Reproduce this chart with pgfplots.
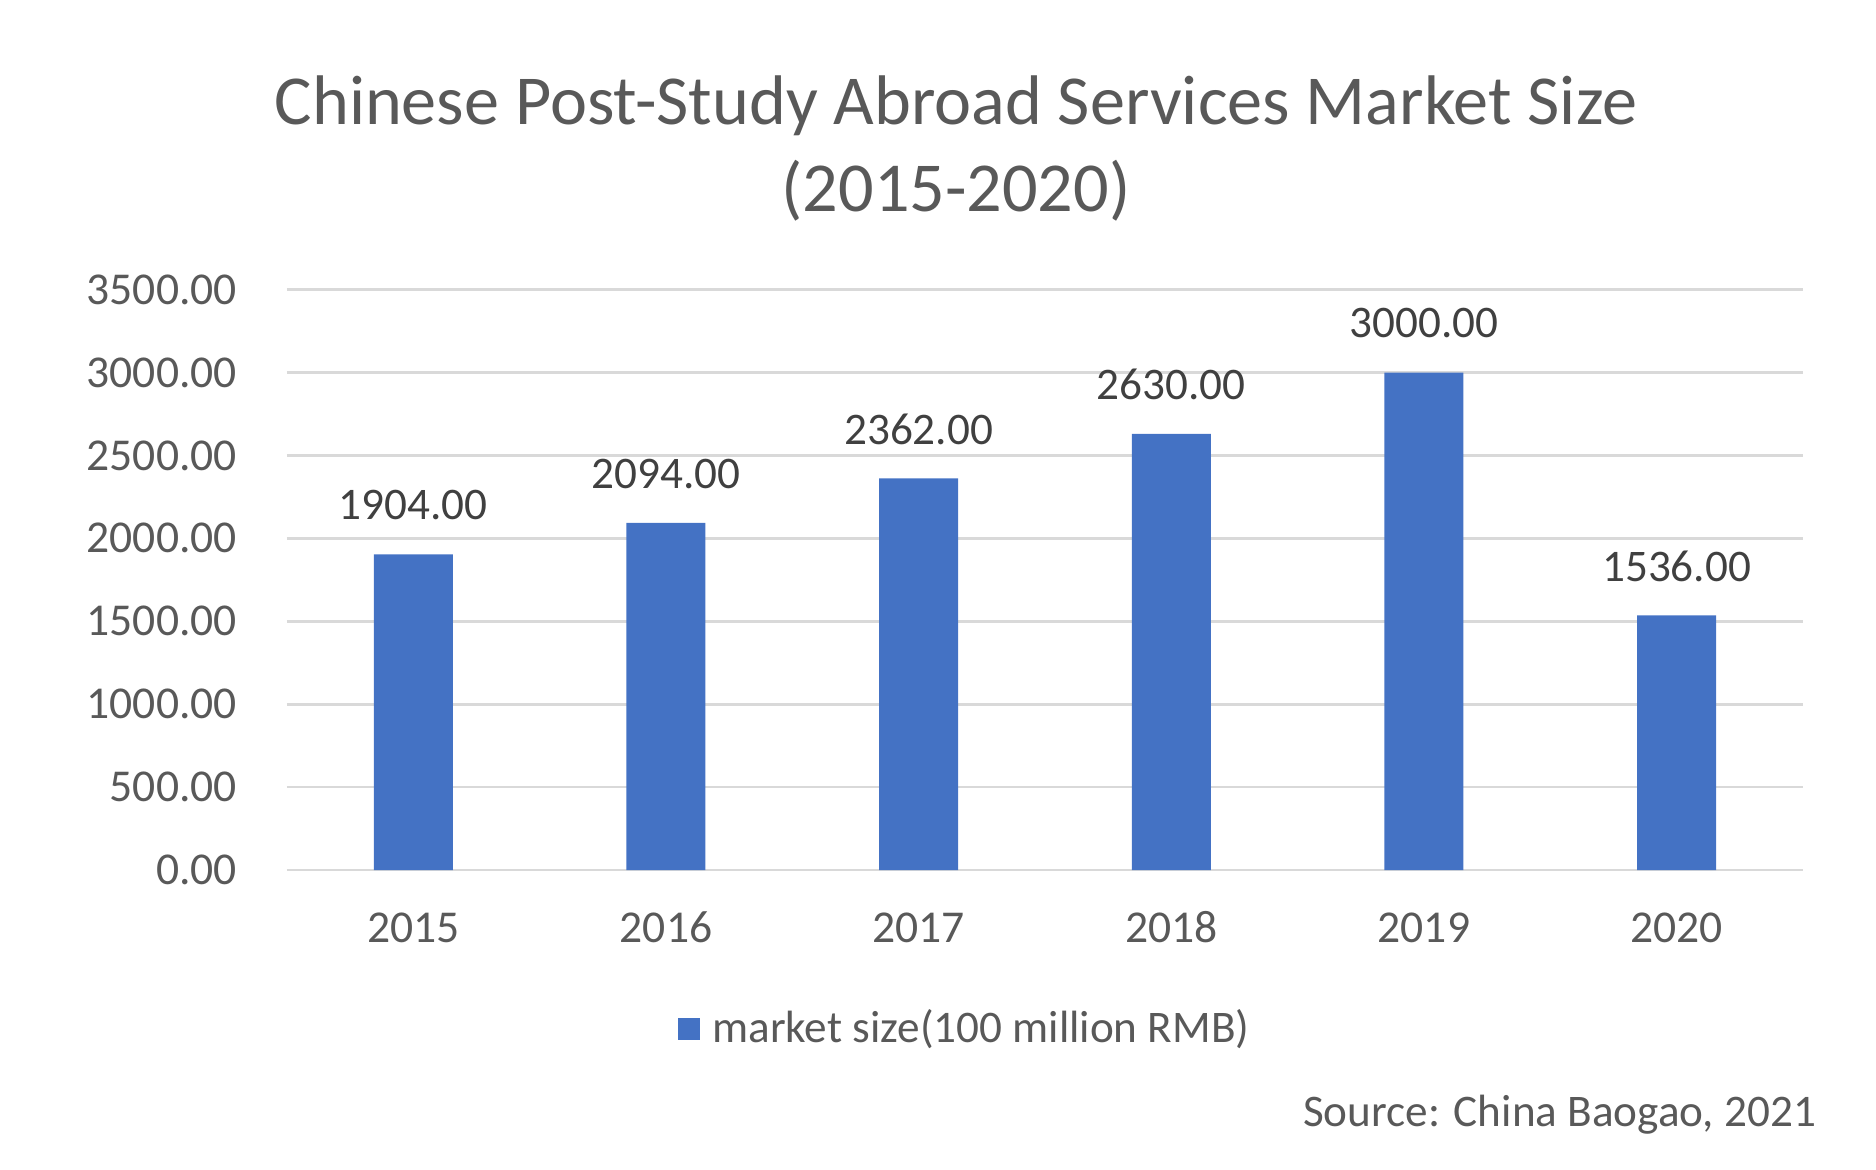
\documentclass[border=0pt]{standalone}
\usepackage{pgfplots}
\pgfplotsset{compat=1.18}
\usepackage{fontspec}
\setmainfont{Carlito}
\definecolor{barblue}{HTML}{4472C4}
\definecolor{gridgray}{HTML}{D9D9D9}
\definecolor{txtgray}{HTML}{595959}
\definecolor{lblgray}{HTML}{404040}
\begin{document}
\begin{tikzpicture}[x=1pt,y=1pt]
\path (0,0) rectangle (469,292.25);
\begin{axis}[
  at={(71.75pt,74.75pt)}, anchor=south west,
  scale only axis, width=379pt, height=145.1pt,
  xmin=-0.5, xmax=5.5, ymin=0, ymax=3500,
  ybar, bar width=19.75pt,
  xtick={0,1,2,3,4,5},
  xticklabels={2015,2016,2017,2018,2019,2020},
  ytick={0,500,1000,1500,2000,2500,3000,3500},
  ymajorgrids, grid style={gridgray, line width=0.7pt},
  axis line style={draw=none},
  major tick length=0pt,
  /pgf/number format/assume math mode=true,
  ticklabel style={font=\fontsize{11.4}{13}\selectfont, text=txtgray},
  yticklabel style={xshift=-9pt, /pgf/number format/fixed, /pgf/number format/zerofill, /pgf/number format/precision=2, /pgf/number format/1000 sep={}},
  xticklabel style={anchor=base, yshift=-18.2pt},
  nodes near coords={\pgfmathprintnumber[fixed,zerofill,precision=2,1000 sep={}]{\pgfplotspointmeta}},
  nodes near coords style={font=\fontsize{11.3}{13}\selectfont, text=lblgray, anchor=center, yshift=12.3pt},
  legend style={at={(0.449,-0.274)}, anchor=center, draw=none, font=\fontsize{11.3}{13}\selectfont, text=txtgray, /tikz/every odd column/.append style={column sep=1pt}},
  legend image code/.code={\fill[barblue] (0pt,-2.8pt) rectangle (5.6pt,2.8pt);},
  clip=false,
]
\addplot[fill=barblue, draw=none] coordinates {(0,1904) (1,2094) (2,2362) (3,2630) (4,3000) (5,1536)};
\addlegendentry{market size(100 million RMB)}
\end{axis}
\node[text=txtgray, font=\fontsize{17.55}{21.8}\selectfont, align=center] at (239,255.1) {Chinese Post-Study Abroad Services Market Size\\(2015-2020)};
\node[text=txtgray, font=\fontsize{11.3}{13}\selectfont, anchor=east, inner sep=0pt] at (454.2,13.5) {Source: China Baogao, 2021};
\end{tikzpicture}
\end{document}
